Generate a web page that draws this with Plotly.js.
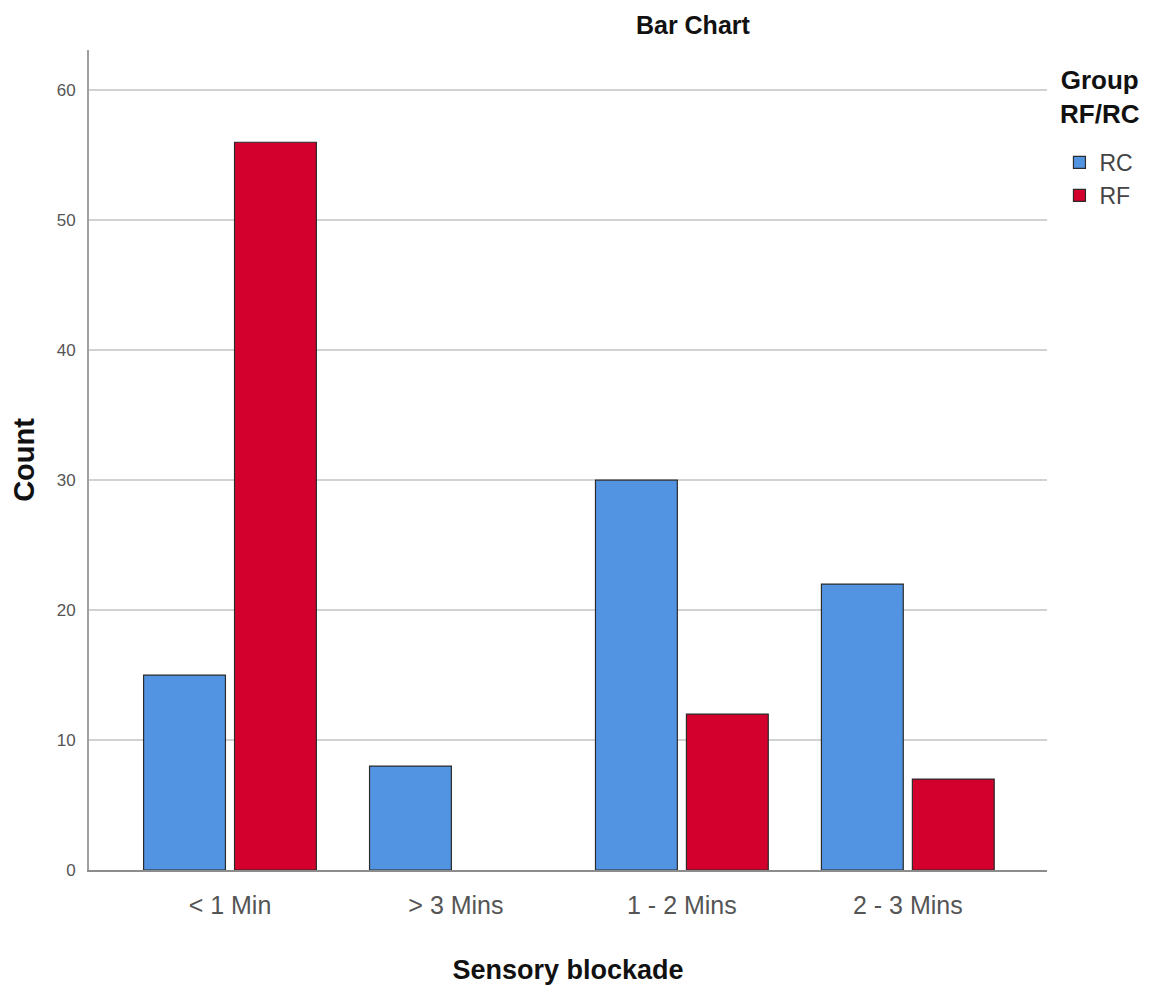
<!DOCTYPE html>
<html>
<head>
<meta charset="utf-8">
<script src="https://cdn.plot.ly/plotly-3.0.1.min.js"></script>
<style>html,body{margin:0;padding:0;background:#fff;}#chart{width:1151px;height:992px;}</style>
</head>
<body>
<div id="chart"></div>
<script>
var categories = ["< 1 Min", "> 3 Mins", "1 - 2 Mins", "2 - 3 Mins"];
var rcValues = [15, 8, 30, 22];
var rfValues = [56, 0, 12, 7];
var seriesNames = ["RC", "RF"];
var yTicks = [0, 10, 20, 30, 40, 50, 60];

var narrow = "Liberation Sans Narrow, Arial Narrow, Liberation Sans, Arial, sans-serif";
var bold = "Liberation Sans, Arial, sans-serif";

function outlineWidths(vals) { return vals.map(function (v) { return v > 0 ? 1.2 : 0; }); }

var traces = [
  {type: "bar", name: seriesNames[0], x: categories, y: rcValues,
   marker: {color: "#5294e2", line: {color: "#2b2b2b", width: outlineWidths(rcValues)}}},
  {type: "bar", name: seriesNames[1], x: categories, y: rfValues,
   marker: {color: "#d3002d", line: {color: "#2b2b2b", width: outlineWidths(rfValues)}}}
];

var layout = {
  width: 1151, height: 992,
  paper_bgcolor: "#fff", plot_bgcolor: "#fff",
  margin: {l: 89, r: 104, t: 50, b: 122},
  barmode: "group", bargap: 0.195, bargroupgap: 0.1,
  title: {text: "<b>Bar Chart</b>", x: 0.602, xref: "container", xanchor: "center",
          y: 0.975, yref: "container", yanchor: "middle",
          font: {family: bold, size: 25, color: "#111"}},
  xaxis: {
    type: "category", range: [-0.624, 3.616], showgrid: false,
    showline: true, linecolor: "#8c8c8c", linewidth: 2, ticks: "",
    tickfont: {family: narrow, size: 25, color: "#555"}, ticklabelstandoff: 12,
    title: {text: "<b>Sensory blockade</b>", standoff: 42, font: {family: bold, size: 27, color: "#111"}}
  },
  yaxis: {
    range: [0, 63.1], tickvals: yTicks, showgrid: true, gridcolor: "#d2d2d2", gridwidth: 2,
    showline: true, linecolor: "#a0a0a0", linewidth: 2, ticks: "", zeroline: false,
    tickfont: {family: narrow, size: 17, color: "#555"}, ticklabelstandoff: 8,
    title: {text: "<b>Count</b>", standoff: 14, font: {family: bold, size: 29, color: "#111"}}
  },
  legend: {
    x: 1.013, xanchor: "left", y: 0.889, yanchor: "top",
    font: {family: narrow, size: 23, color: "#444"},
    itemwidth: 30, tracegroupgap: 0, traceorder: "normal"
  },
  annotations: [{
    text: "<b>Group<br>RF/RC</b>", xref: "paper", yref: "paper",
    x: 1.0553, y: 0.984, xanchor: "center", yanchor: "top", align: "center",
    showarrow: false, font: {family: bold, size: 26, color: "#111"}
  }],
  showlegend: true
};

Plotly.newPlot("chart", traces, layout, {displayModeBar: false, staticPlot: true});
</script>
</body>
</html>
